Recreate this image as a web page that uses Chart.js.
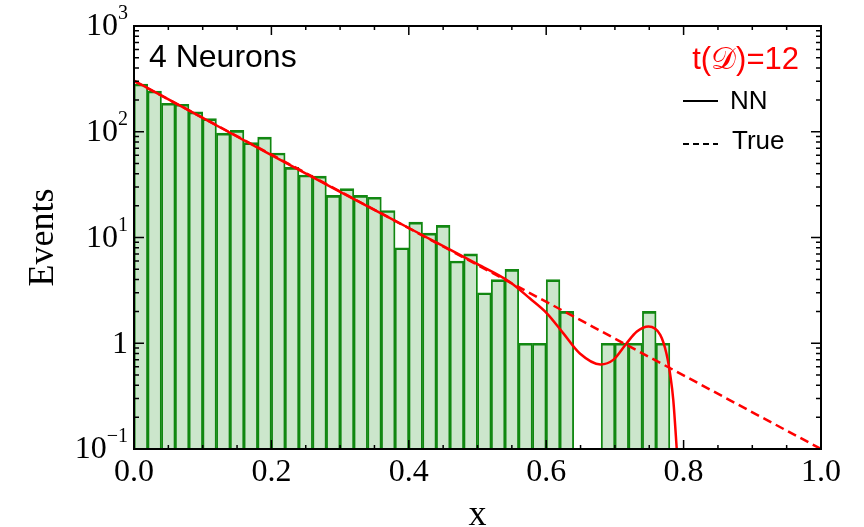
<!DOCTYPE html>
<html>
<head>
<meta charset="utf-8">
<script src="https://cdn.jsdelivr.net/npm/chart.js@4"></script>
<style>
	html, body { margin: 0; padding: 0; background: #fff; }
	#wrap { width: 864px; height: 527px; }
</style>
</head>
<body>
<div id="wrap"><canvas id="hist-chart" width="864" height="527"></canvas></div>
<script>
// histogram bins (lower edge, width 0.02) and counts
const binStart = [0.00, 0.02, 0.04, 0.06, 0.08, 0.10, 0.12, 0.14, 0.16, 0.18,
	0.20, 0.22, 0.24, 0.26, 0.28, 0.30, 0.32, 0.34, 0.36, 0.38,
	0.40, 0.42, 0.44, 0.46, 0.48, 0.50, 0.52, 0.54, 0.56, 0.58,
	0.60, 0.62, 0.64, 0.66, 0.68, 0.70, 0.72, 0.74, 0.76, 0.78];
const counts = [283, 243, 186, 182, 154, 133, 97, 103, 79, 89,
	63, 46, 39, 38, 25, 29, 25, 24, 18, 8,
	14, 11, 13, 6, 7, 3, 4, 5, 1, 1,
	4, 2, 0, 0, 1, 1, 1, 2, 1, 0];
const binWidth = 0.02;

// NN fit
const nnX = [0, 0.1, 0.2, 0.3, 0.4, 0.5, 0.547, 0.576, 0.601, 0.625, 0.649, 0.679, 0.698, 0.716, 0.732, 0.749, 0.766, 0.775, 0.781, 0.785, 0.790, 0.793];
const nnY = [304, 135, 60, 27, 12.3, 5.6, 3.8, 2.66, 1.92, 1.24, 0.80, 0.63, 0.70, 0.98, 1.29, 1.44, 1.20, 0.80, 0.48, 0.29, 0.1, 0.05];

// true distribution (straight on the log axis)
const trueX = [0, 1];
const trueY = [302, 0.1];

const yMajor = [0.1, 1, 10, 100, 1000];
const yMajorLabels = [["10", "\u22121"], ["1", ""], ["10", "1"], ["10", "2"], ["10", "3"]];

const RED = "#ff0000";
const SERIF = "'Liberation Serif', 'Times New Roman', serif";
const SANS = "'Liberation Sans', Arial, sans-serif";

const histChart = document.getElementById("hist-chart");

const framePlugin = {
	id: "frame",
	afterDatasetsDraw(chart) {
		const ctx = chart.ctx;
		const a = chart.chartArea;
		const xs = chart.scales.x;
		const ys = chart.scales.y;
		ctx.save();
		ctx.strokeStyle = "#000";

		// inward ticks, x
		ctx.lineWidth = 1.5;
		for (let k = 0; k <= 20; k++) {
			const v = k * 0.05;
			const px = xs.getPixelForValue(v);
			const len = k % 4 === 0 ? 9 : 4;
			ctx.beginPath();
			ctx.moveTo(px, a.bottom);
			ctx.lineTo(px, a.bottom - len);
			ctx.moveTo(px, a.top);
			ctx.lineTo(px, a.top + len);
			ctx.stroke();
		}
		// inward ticks, y (log)
		for (let e = -1; e <= 2; e++) {
			for (let m = 1; m <= 9; m++) {
				const v = m * Math.pow(10, e);
				const py = ys.getPixelForValue(v);
				const len = m === 1 ? 10 : 5;
				ctx.beginPath();
				ctx.moveTo(a.left, py);
				ctx.lineTo(a.left + len, py);
				ctx.moveTo(a.right, py);
				ctx.lineTo(a.right - len, py);
				ctx.stroke();
			}
		}

		// frame
		ctx.lineWidth = 2;
		ctx.strokeRect(a.left, a.top, a.right - a.left, a.bottom - a.top);

		// y tick labels with superscripts
		ctx.fillStyle = "#000";
		ctx.textBaseline = "middle";
		yMajor.forEach((v, i) => {
			const py = ys.getPixelForValue(v);
			const base = yMajorLabels[i][0];
			const sup = yMajorLabels[i][1];
			ctx.font = "20px " + SERIF;
			const supW = sup ? ctx.measureText(sup).width : 0;
			const right = a.left - 6;
			if (sup) {
				ctx.textAlign = "right";
				ctx.fillText(sup, right, py - 12);
			}
			ctx.font = "32px " + SERIF;
			ctx.textAlign = "right";
			ctx.fillText(base, right - supW, py + 1);
		});

		// axis titles
		ctx.font = "36px " + SERIF;
		ctx.textAlign = "center";
		ctx.textBaseline = "alphabetic";
		ctx.fillText("x", (a.left + a.right) / 2, 525);
		ctx.save();
		ctx.translate(53, (a.top + a.bottom) / 2);
		ctx.rotate(-Math.PI / 2);
		ctx.fillText("Events", 0, 0);
		ctx.restore();

		// annotation
		ctx.textAlign = "left";
		ctx.font = "32px " + SANS;
		ctx.fillText("4 Neurons", 149, 67);

		// legend
		ctx.fillStyle = RED;
		ctx.textAlign = "right";
		ctx.font = "31px " + SANS;
		ctx.fillText("t(\uD835\uDC9F)=12", 799, 69);

		ctx.fillStyle = "#000";
		ctx.textAlign = "left";
		ctx.font = "26px " + SANS;
		ctx.fillText("NN", 730, 109);
		ctx.fillText("True", 732, 149);
		ctx.lineWidth = 2;
		ctx.beginPath();
		ctx.moveTo(683, 101);
		ctx.lineTo(718, 101);
		ctx.stroke();
		ctx.setLineDash([6, 4]);
		ctx.beginPath();
		ctx.moveTo(683, 144);
		ctx.lineTo(718, 144);
		ctx.stroke();
		ctx.restore();
	},
};

new Chart(histChart, {
	type: "bar",
	data: {
		datasets: [
			{
				type: "line",
				label: "NN",
				data: nnX.map((x, i) => ({ x: x, y: nnY[i] })),
				borderColor: RED,
				borderWidth: 2.5,
				pointRadius: 0,
				cubicInterpolationMode: "monotone",
				order: 1,
			},
			{
				type: "line",
				label: "True",
				data: trueX.map((x, i) => ({ x: x, y: trueY[i] })),
				borderColor: RED,
				borderWidth: 2.5,
				borderDash: [9, 5],
				pointRadius: 0,
				order: 2,
			},
			{
				type: "bar",
				label: "Data",
				data: binStart.map((x, i) => ({
					x: x + binWidth / 2,
					y: counts[i] > 0 ? counts[i] : null,
				})),
				backgroundColor: "rgba(0, 128, 0, 0.2)",
				borderColor: "#128812",
				borderWidth: { top: 2, left: 1.2, right: 1.2, bottom: 0 },
				barPercentage: 1,
				categoryPercentage: 1,
				order: 3,
			},
		],
	},
	plugins: [framePlugin],
	options: {
		responsive: false,
		animation: false,
		events: [],
		layout: {
			padding: { left: 0, right: 43, top: 26, bottom: 0 },
		},
		plugins: {
			legend: { display: false },
			tooltip: { enabled: false },
		},
		scales: {
			x: {
				type: "linear",
				min: 0,
				max: 1,
				offset: false,
				grid: { display: false, drawTicks: false },
				border: { display: false },
				ticks: {
					stepSize: 0.2,
					padding: 4,
					color: "#000",
					font: { family: SERIF, size: 32 },
					maxRotation: 0,
					callback: (v) => v.toFixed(1),
				},
				afterFit: (s) => {
					s.height = 78;
				},
			},
			y: {
				type: "logarithmic",
				min: 0.1,
				max: 1000,
				grid: { display: false, drawTicks: false },
				border: { display: false },
				ticks: { display: false },
				afterFit: (s) => {
					s.width = 134;
				},
			},
		},
	},
});
</script>
</body>
</html>
